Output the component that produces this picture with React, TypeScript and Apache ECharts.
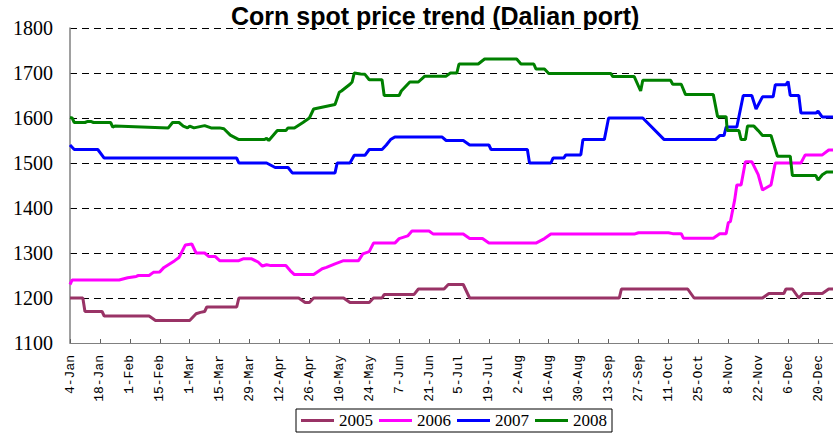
import React, { useEffect, useRef } from "react";
import * as echarts from "echarts";

// x = days since 4-Jan (tick every 14 days)
const dateLabels = [
  "4-Jan", "18-Jan", "1-Feb", "15-Feb", "1-Mar", "15-Mar", "29-Mar", "12-Apr", "26-Apr",
  "10-May", "24-May", "7-Jun", "21-Jun", "5-Jul", "19-Jul", "2-Aug", "16-Aug", "30-Aug",
  "13-Sep", "27-Sep", "11-Oct", "25-Oct", "8-Nov", "22-Nov", "6-Dec", "20-Dec",
];

const seriesNames = ["2005", "2006", "2007", "2008"];

const data2005: [number, number][] = [
  [0, 1200], [6, 1200], [7, 1170], [15, 1170], [16, 1160], [37, 1160], [40, 1150], [56, 1150],
  [59, 1165], [61, 1168], [63, 1170], [64, 1180], [78, 1180], [79, 1200], [107, 1200], [110, 1190],
  [112, 1190], [114, 1200], [128, 1200], [131, 1190], [140, 1190], [142, 1200], [146, 1200],
  [147, 1208], [161, 1208], [163, 1220], [175, 1220], [177, 1230], [184, 1230], [187, 1200],
  [257, 1200], [258, 1220], [289, 1220], [292, 1200], [324, 1200], [327, 1210], [334, 1210],
  [335, 1220], [338, 1220], [341, 1200], [343, 1210], [352, 1210], [355, 1220], [357, 1220],
];

const data2006: [number, number][] = [
  [0, 1230], [1, 1240], [23, 1240], [27, 1245], [31, 1248], [32, 1250], [37, 1250], [39, 1257],
  [42, 1258], [44, 1268], [49, 1283], [51, 1290], [54, 1318], [57, 1320], [59, 1300], [63, 1300],
  [65, 1292], [68, 1292], [70, 1283], [79, 1283], [81, 1287], [85, 1287], [88, 1280], [90, 1271],
  [92, 1274], [94, 1272], [101, 1272], [103, 1261], [105, 1252], [114, 1252], [118, 1265],
  [120, 1268], [124, 1276], [128, 1283], [135, 1283], [137, 1298], [140, 1303], [142, 1322],
  [152, 1322], [154, 1332], [158, 1338], [160, 1349], [168, 1349], [170, 1342], [184, 1342],
  [187, 1332], [193, 1332], [196, 1322], [218, 1322], [222, 1332], [225, 1342], [264, 1342],
  [266, 1345], [280, 1345], [282, 1343], [286, 1343], [287, 1333], [301, 1333], [304, 1343],
  [307, 1343], [308, 1367], [309, 1370], [311, 1418], [312, 1451], [314, 1451], [316, 1503],
  [319, 1503], [322, 1474], [324, 1440], [328, 1451], [330, 1500], [342, 1500], [344, 1518],
  [352, 1518], [355, 1529], [357, 1529],
];

const data2007: [number, number][] = [
  [0, 1540], [2, 1530], [13, 1530], [16, 1511], [78, 1511], [79, 1500], [92, 1500], [96, 1490],
  [102, 1490], [104, 1478], [124, 1478], [125, 1500], [131, 1500], [133, 1517], [138, 1517],
  [140, 1530], [146, 1530], [148, 1540], [150, 1552], [152, 1558], [174, 1558], [176, 1550],
  [184, 1550], [187, 1540], [196, 1540], [197, 1530], [214, 1530], [215, 1500], [225, 1500],
  [226, 1511], [231, 1511], [232, 1518], [239, 1518], [240, 1552], [250, 1552], [252, 1600],
  [268, 1600], [278, 1552], [302, 1552], [304, 1561], [306, 1561], [307, 1580], [312, 1580],
  [315, 1650], [319, 1650], [321, 1620], [324, 1647], [329, 1647], [330, 1674], [335, 1674],
  [336, 1681], [337, 1650], [341, 1650], [342, 1611], [349, 1611], [350, 1615], [352, 1602],
  [357, 1602],
];

const data2008: [number, number][] = [
  [0, 1601], [1, 1600], [2, 1590], [7, 1590], [8, 1592], [10, 1592], [11, 1590], [19, 1590],
  [20, 1580], [21, 1582], [46, 1578], [48, 1590], [51, 1590], [53, 1582], [55, 1578], [56, 1582],
  [58, 1578], [63, 1583], [66, 1578], [70, 1578], [72, 1576], [75, 1562], [79, 1552], [91, 1552],
  [92, 1555], [93, 1550], [97, 1572], [101, 1572], [102, 1578], [105, 1578], [109, 1590],
  [112, 1600], [114, 1620], [124, 1630], [126, 1657], [127, 1660], [131, 1675], [132, 1680],
  [133, 1700], [136, 1698], [138, 1697], [140, 1685], [146, 1685], [147, 1650], [154, 1650],
  [155, 1660], [159, 1680], [163, 1680], [166, 1693], [176, 1693], [178, 1700], [181, 1700],
  [182, 1720], [191, 1720], [194, 1731], [209, 1731], [211, 1720], [217, 1720], [218, 1709],
  [222, 1709], [224, 1699], [253, 1699], [254, 1692], [264, 1692], [267, 1660], [268, 1684],
  [281, 1684], [282, 1675], [286, 1675], [288, 1652], [301, 1652], [303, 1603], [307, 1603],
  [307.5, 1572], [313, 1572], [314, 1552], [316, 1552], [317, 1582], [320, 1582], [322, 1572],
  [324, 1561], [328, 1561], [331, 1515], [337, 1515], [338, 1472], [349, 1472], [350, 1462],
  [352, 1474], [354, 1480], [357, 1480],
];

const seriesData = [data2005, data2006, data2007, data2008];
const seriesColors = ["#993366", "#FF00FF", "#0000FF", "#008000"];

const SERIF = "'Liberation Serif', 'Times New Roman', serif";
const MONO = "'Liberation Mono', 'Courier New', monospace";

export default function App() {
  const ref = useRef<HTMLDivElement>(null);

  useEffect(() => {
    if (!ref.current) return;
    const chart = echarts.init(ref.current, undefined, { renderer: "svg" });
    chart.setOption({
      animation: false,
      backgroundColor: "#ffffff",
      title: {
        text: "Corn spot price trend (Dalian port)",
        left: 226,
        top: -2,
        textStyle: {
          fontFamily: "'Liberation Sans', Arial, sans-serif",
          fontWeight: "bold",
          fontSize: 25,
          color: "#000",
        },
      },
      grid: { left: 70, right: 0, top: 28, bottom: 92, containLabel: false },
      legend: {
        data: seriesNames,
        left: 296,
        top: 409,
        orient: "horizontal",
        icon: "rect",
        itemWidth: 33,
        itemHeight: 3,
        itemGap: 6,
        padding: [3, 5, 3, 5],
        borderColor: "#000",
        borderWidth: 1,
        textStyle: { fontFamily: SERIF, fontSize: 17, color: "#000" },
      },
      xAxis: {
        type: "value",
        min: 0,
        max: 357,
        interval: 14,
        axisLine: { show: true, onZero: false, lineStyle: { color: "#808080", width: 1 } },
        axisTick: { show: true, inside: true, length: 4, lineStyle: { color: "#606060" } },
        splitLine: { show: false },
        axisLabel: {
          rotate: 90,
          margin: 12,
          fontFamily: MONO,
          fontSize: 13,
          color: "#000",
          showMaxLabel: false,
          formatter: (v: number) => {
            const i = v / 14;
            return Number.isInteger(i) && i < dateLabels.length ? dateLabels[i] : "";
          },
        },
      },
      yAxis: {
        type: "value",
        min: 1100,
        max: 1800,
        interval: 100,
        axisLine: { show: true, lineStyle: { color: "#808080", width: 1.5 } },
        axisTick: { show: false },
        splitLine: { show: true, lineStyle: { color: "#000", type: [7, 5], width: 1 } },
        axisLabel: {
          margin: 17,
          fontFamily: SERIF,
          fontSize: 20,
          color: "#000",
          formatter: (v: number) => String(v),
        },
      },
      series: seriesNames.map((name, i) => ({
        name,
        type: "line",
        data: seriesData[i],
        showSymbol: false,
        symbol: "none",
        color: seriesColors[i],
        lineStyle: { width: 3, color: seriesColors[i] },
        emphasis: { disabled: true },
      })),
    });
    return () => chart.dispose();
  }, []);

  return (
    <div
      ref={ref}
      style={{ position: "absolute", left: 0, top: 0, width: 833, height: 435 }}
    />
  );
}
